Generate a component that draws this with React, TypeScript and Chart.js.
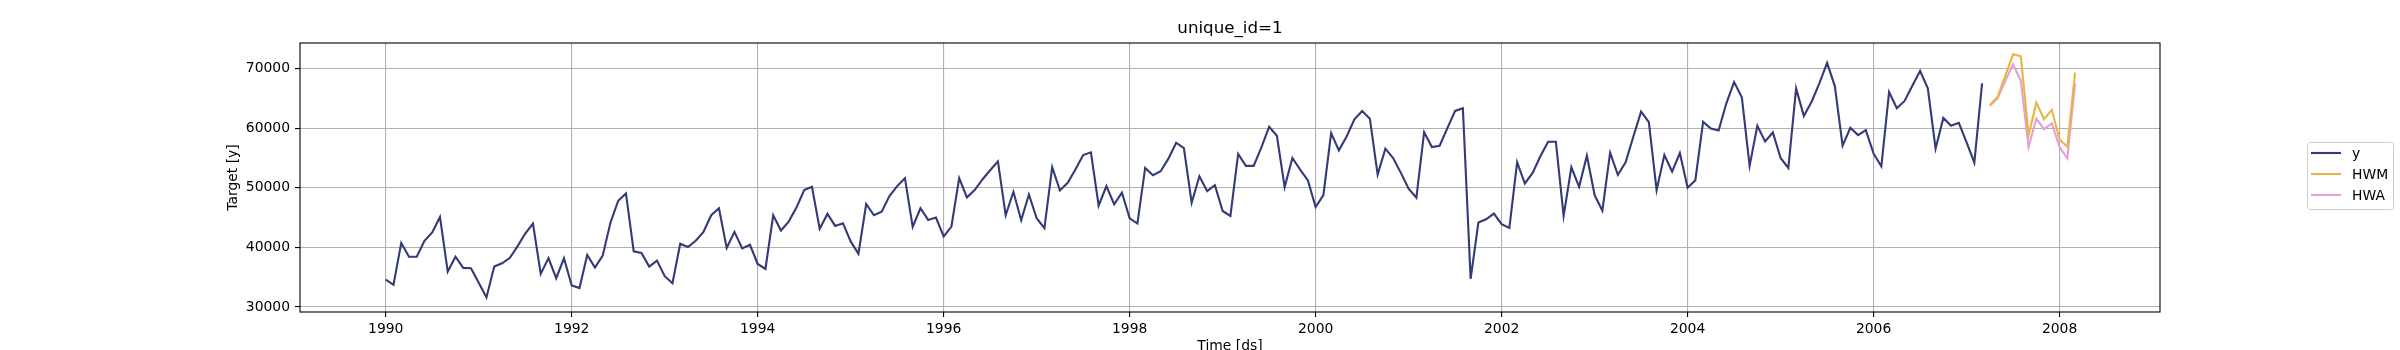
import React, { useEffect, useRef } from "react";
import { Chart, registerables } from "chart.js";

Chart.register(...registerables);

// Monthly series starting 1990-01
const startYear = 1990;
const startMonth = 1;

const yValues = [
  // 1990
  34610, 33720, 40720, 38440, 38440, 41110, 42500, 45110, 35940, 38440, 36560, 36500,
  // 1991
  34060, 31610, 36780, 37330, 38220, 40170, 42330, 44000, 35560, 38220, 34830, 38170,
  // 1992
  33610, 33170, 38720, 36610, 38610, 44170, 47830, 49060, 39330, 39060, 36780, 37780,
  // 1993
  35170, 34000, 40610, 40060, 41110, 42600, 45390, 46560, 39890, 42610, 39830, 40440,
  // 1994
  37220, 36390, 45390, 42830, 44330, 46670, 49610, 50170, 43110, 45610, 43610, 44060,
  // 1995
  41000, 38940, 47280, 45390, 46000, 48610, 50280, 51610, 43440, 46560, 44610, 45000,
  // 1996
  41830, 43500, 51610, 48390, 49610, 51390, 52940, 54440, 45390, 49330, 44560, 48890,
  // 1997
  44890, 43220, 53440, 49560, 50830, 53060, 55500, 55940, 47000, 50280, 47220, 49170,
  // 1998
  44890, 44000, 53330, 52110, 52780, 54890, 57560, 56670, 47500, 51940, 49440, 50440,
  // 1999
  46110, 45280, 55670, 53670, 53670, 56780, 60220, 58720, 50110, 55000, 53060, 51220,
  // 2000
  46780, 48780, 59170, 56280, 58610, 61500, 62890, 61560, 52220, 56560, 55000, 52500,
  // 2001
  49830, 48330, 59330, 56830, 57060, 60000, 62890, 63330, 34720, 44170, 44720, 45670,
  // 2002
  43890, 43280, 54280, 50720, 52500, 55280, 57720, 57720, 45280, 53440, 50170, 55390,
  // 2003
  48780, 46170, 55890, 52170, 54280, 58610, 62780, 61000, 49610, 55500, 52720, 55830,
  // 2004
  50000, 51280, 61060, 59940, 59610, 64170, 67720, 65170, 53670, 60390, 57780, 59280,
  // 2005
  55000, 53330, 66670, 62060, 64440, 67500, 70940, 67060, 57060, 60060, 58830, 59670,
  // 2006
  55720, 53610, 66060, 63330, 64560, 67110, 69610, 66670, 56560, 61720, 60390, 60890,
  // 2007
  57610, 54220, 67500,
];

// Forecasts 2007-04 .. 2008-03
const hwmValues = [63860, 65220, 68830, 72390, 72060, 58800, 64280, 61500, 63060, 58110, 56890, 69330];
const hwaValues = [63780, 65000, 67940, 70720, 67940, 56830, 61610, 59830, 60830, 56830, 54940, 67500];

const xTickValues = [1990, 1992, 1994, 1996, 1998, 2000, 2002, 2004, 2006, 2008];
const yTickValues = [30000, 40000, 50000, 60000, 70000];

const seriesNames = ["y", "HWM", "HWA"];
const seriesColors = ["#323a78", "#e8b444", "#e2a0d6"];

const titleText = "unique_id=1";
const xLabelText = "Time [ds]";
const yLabelText = "Target [y]";

const monthPos = (idx: number) => startYear + (startMonth - 1 + idx) / 12;

const FONT = "DejaVu Sans";

export default function App() {
  const ref = useRef<HTMLCanvasElement | null>(null);

  useEffect(() => {
    document.body.style.margin = "0";
    const canvas = ref.current;
    if (!canvas) return;

    const yData = yValues.map((v, i) => ({ x: monthPos(i), y: v }));
    const off = yValues.length;
    const hwmData = hwmValues.map((v, i) => ({ x: monthPos(off + i), y: v }));
    const hwaData = hwaValues.map((v, i) => ({ x: monthPos(off + i), y: v }));

    const decor = {
      id: "decor",
      afterDraw(chart: any) {
        const ctx = chart.ctx;
        const a = chart.chartArea;
        ctx.save();
        // frame
        ctx.strokeStyle = "#000";
        ctx.lineWidth = 1.1;
        ctx.strokeRect(a.left, a.top, a.right - a.left, a.bottom - a.top);
        // title
        ctx.fillStyle = "#000";
        ctx.font = `16.7px "${FONT}"`;
        ctx.textAlign = "center";
        ctx.textBaseline = "bottom";
        ctx.fillText(titleText, (a.left + a.right) / 2, a.top - 6);
        // x label
        ctx.font = `13.9px "${FONT}"`;
        ctx.textBaseline = "top";
        ctx.fillText(xLabelText, (a.left + a.right) / 2, 339);
        // y label
        ctx.save();
        ctx.translate(233, (a.top + a.bottom) / 2);
        ctx.rotate(-Math.PI / 2);
        ctx.textBaseline = "middle";
        ctx.textAlign = "center";
        ctx.fillText(yLabelText, 0, 0);
        ctx.restore();
        // legend
        const lx = 2307, ly = 142, lw = 86, lh = 67;
        ctx.fillStyle = "rgba(255,255,255,0.8)";
        ctx.strokeStyle = "#cccccc";
        ctx.lineWidth = 1;
        ctx.beginPath();
        (ctx as any).roundRect(lx + 0.5, ly + 0.5, lw, lh, 3);
        ctx.fill();
        ctx.stroke();
        const rows = [153, 174, 195];
        ctx.font = `13.9px "${FONT}"`;
        ctx.textAlign = "left";
        ctx.textBaseline = "middle";
        seriesNames.forEach((name, i) => {
          ctx.strokeStyle = seriesColors[i];
          ctx.lineWidth = 2.1;
          ctx.beginPath();
          ctx.moveTo(2311, rows[i]);
          ctx.lineTo(2341, rows[i]);
          ctx.stroke();
          ctx.fillStyle = "#000";
          ctx.fillText(name, 2352, rows[i] + 1);
        });
        ctx.restore();
      },
    };

    const chart = new Chart(canvas, {
      type: "line",
      data: {
        datasets: [
          { label: seriesNames[0], data: yData, borderColor: seriesColors[0], borderWidth: 2.1, pointRadius: 0, tension: 0, fill: false },
          { label: seriesNames[1], data: hwmData, borderColor: seriesColors[1], borderWidth: 2.1, pointRadius: 0, tension: 0, fill: false },
          { label: seriesNames[2], data: hwaData, borderColor: seriesColors[2], borderWidth: 2.1, pointRadius: 0, tension: 0, fill: false },
        ],
      },
      options: {
        animation: false,
        responsive: false,
        devicePixelRatio: 1,
        layout: { padding: { left: 0, right: 240, top: 43, bottom: 0 } },
        plugins: {
          legend: { display: false },
          title: { display: false },
          tooltip: { enabled: false },
        },
        scales: {
          x: {
            type: "linear",
            min: 1989.078,
            max: 2009.08,
            afterBuildTicks: (scale: any) => {
              scale.ticks = xTickValues.map((v) => ({ value: v }));
            },
            afterFit: (scale: any) => {
              scale.height = 38;
            },
            ticks: {
              autoSkip: false,
              maxRotation: 0,
              padding: 4,
              color: "#000",
              font: { family: FONT, size: 13.9 },
              callback: (v: any) => String(v),
            },
            grid: {
              color: "#b0b0b0",
              lineWidth: 1.1,
              tickColor: "#000",
              tickLength: 5,
              tickWidth: 1.1,
            },
            border: { display: false },
          },
          y: {
            type: "linear",
            min: 29163,
            max: 74285,
            afterBuildTicks: (scale: any) => {
              scale.ticks = yTickValues.map((v) => ({ value: v }));
            },
            afterFit: (scale: any) => {
              scale.width = 300;
            },
            ticks: {
              autoSkip: false,
              padding: 5,
              color: "#000",
              font: { family: FONT, size: 13.9 },
              callback: (v: any) => String(v),
            },
            grid: {
              color: "#b0b0b0",
              lineWidth: 1.1,
              tickColor: "#000",
              tickLength: 5,
              tickWidth: 1.1,
            },
            border: { display: false },
          },
        },
      },
      plugins: [decor],
    } as any);

    return () => {
      chart.destroy();
    };
  }, []);

  return (
    <canvas
      ref={ref}
      width={2400}
      height={350}
      style={{ display: "block", width: "2400px", height: "350px" }}
    />
  );
}
